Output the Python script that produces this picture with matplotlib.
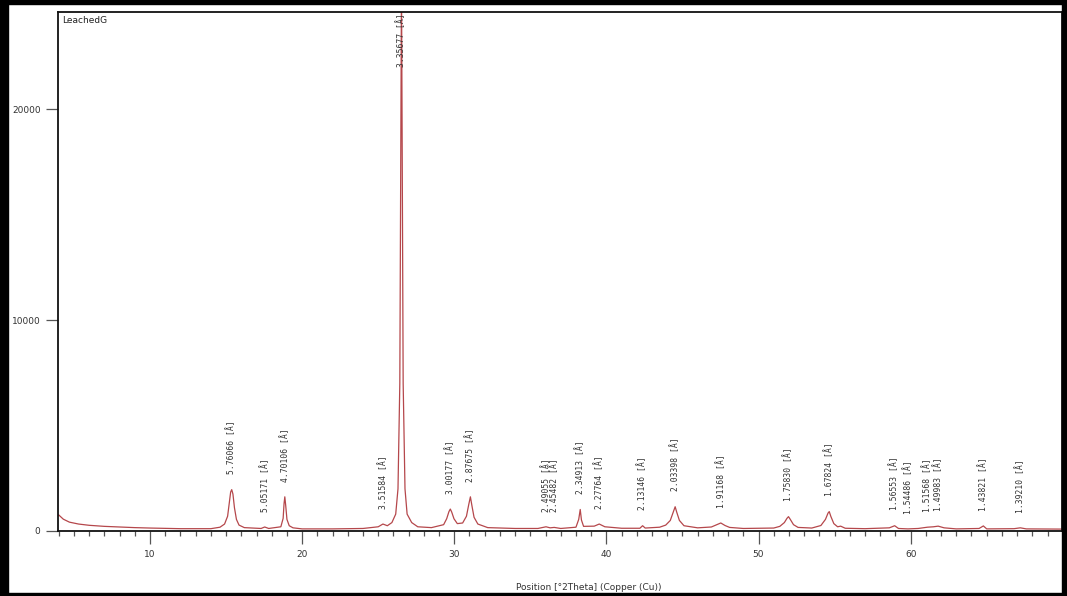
"""XRD pattern of the leached sample G with d-spacing peak labels."""

import numpy as np
import matplotlib
matplotlib.use("Agg")
import matplotlib.pyplot as plt
from matplotlib.patches import Rectangle
from matplotlib.ticker import MultipleLocator

WAVELENGTH = 1.5406  # Cu K-alpha1, Angstrom

# measured trace, position [deg 2theta] and counts
trace_2theta = [
    4.0, 4.3, 4.7, 5.3, 6.0, 7.0, 8.0, 9.0, 10.0, 12.0, 14.0,
    14.6, 14.9, 15.1, 15.22, 15.3, 15.37, 15.45, 15.55, 15.68, 15.85, 16.2,
    17.3, 17.54, 17.8,
    18.6, 18.75, 18.81, 18.86, 18.92, 19.0, 19.15, 19.4,
    20.0, 22.0, 24.0, 25.0, 25.31, 25.6,
    25.9, 26.15, 26.3, 26.42, 26.53, 26.64, 26.76, 26.9, 27.2, 27.6, 28.5,
    29.3, 29.5, 29.65, 29.74, 29.83, 29.98, 30.2,
    30.55, 30.8, 30.95, 31.06, 31.16, 31.3, 31.55,
    32.2, 34.0, 35.5, 36.03, 36.3, 36.57, 37.0,
    38.0, 38.18, 38.28, 38.36, 38.5,
    39.2, 39.53, 39.9, 41.0, 42.2, 42.38, 42.55, 43.5,
    43.9, 44.2, 44.4, 44.52, 44.62, 44.8, 45.1, 46.0,
    46.9, 47.2, 47.52, 47.8, 48.1, 49.0, 51.0,
    51.4, 51.7, 51.87, 51.97, 52.08, 52.3, 52.6, 53.5,
    54.1, 54.4, 54.57, 54.65, 54.75, 54.95, 55.2, 55.4, 55.7,
    57.0, 58.6, 58.95, 59.2, 59.82, 60.5,
    61.1, 61.5, 61.81, 62.2, 63.0, 64.5, 64.78, 65.0, 66.8, 67.21,
    67.6, 70.0,
]
trace_counts = [
    760, 560, 420, 330, 270, 220, 190, 160, 140, 110, 110,
    180, 330, 700, 1400, 1850, 1960, 1750, 1100, 550, 280, 160,
    120, 190, 120,
    200, 600, 1300, 1620, 1200, 550, 250, 150,
    100, 100, 120, 200, 330, 250,
    400, 800, 2000, 7000, 26000, 7000, 2000, 800, 400, 200, 160,
    300, 580, 920, 1040, 900, 580, 350,
    380, 700, 1250, 1620, 1200, 650, 330,
    160, 120, 120, 200, 150, 170, 120,
    180, 550, 1020, 520, 220,
    230, 330, 200, 130, 130, 250, 140, 180,
    280, 500, 900, 1150, 900, 500, 250, 150,
    190, 280, 380, 260, 170, 120, 140,
    220, 400, 600, 680, 560, 300, 170, 140,
    260, 550, 850, 920, 700, 350, 200, 230, 130,
    110, 150, 250, 120, 100, 120,
    180, 200, 230, 150, 100, 120, 240, 100, 110, 150,
    100, 90,
]

# labelled reflections: d-spacing [A] and apex counts
d_spacings = [
    5.76066, 5.05171, 4.70106, 3.51584, 3.35677, 3.00177, 2.87675,
    2.49055, 2.45482, 2.34913, 2.27764, 2.13146, 2.03398, 1.91168,
    1.75830, 1.67824, 1.56553, 1.54486, 1.51568, 1.49983, 1.43821,
    1.39210,
]
peak_counts = [
    1960, 190, 1620, 330, 26000, 1040, 1620,
    200, 170, 1020, 330, 250, 1150, 380,
    680, 920, 250, 100, 180, 230, 240,
    150,
]

x_range = (3.95, 69.95)
y_range = (0, 24600)

fig = plt.figure(figsize=(10.67, 5.96), dpi=100)
ax = fig.add_axes([58 / 1067, 65 / 596, 1004 / 1067, 519 / 596])

ax.plot(trace_2theta, trace_counts, color="#b5474b", lw=0.9)
ax.set_xlim(*x_range)
ax.set_ylim(*y_range)

# Bragg's law: d -> 2theta
two_theta = np.degrees(2 * np.arcsin(WAVELENGTH / (2 * np.array(d_spacings))))
for d, tt, h in zip(d_spacings, two_theta, peak_counts):
    label = f"{d:.5f} [Å]"
    if h >= y_range[1]:
        ax.annotate(label, xy=(tt, y_range[1]), xytext=(0, -1),
                    textcoords="offset points", rotation=90,
                    ha="center", va="top", fontsize=5.8,
                    family="DejaVu Sans Mono", color="#333333")
    else:
        ax.annotate(label, xy=(tt, h), xytext=(0, 11),
                    textcoords="offset points", rotation=90,
                    ha="center", va="bottom", fontsize=5.8,
                    family="DejaVu Sans Mono", color="#333333")

ax.text(0.004, 0.993, "LeachedG", transform=ax.transAxes, ha="left",
        va="top", fontsize=6.5, color="#222222")

ax.xaxis.set_major_locator(MultipleLocator(10))
ax.xaxis.set_minor_locator(MultipleLocator(1))
ax.set_yticks([0, 10000, 20000])
ax.tick_params(axis="x", which="major", length=9.5, width=0.9,
               color="#555555", labelsize=6.5, labelcolor="#333333", pad=4)
ax.tick_params(axis="x", which="minor", length=3.8, width=0.9,
               color="#555555")
ax.tick_params(axis="y", which="major", length=8.6, width=0.9,
               color="#555555", labelsize=6.5, labelcolor="#333333", pad=4)
for side in ax.spines.values():
    side.set_linewidth(1.3)
    side.set_color("#111111")

ax.set_xlabel("Position [°2Theta] (Copper (Cu))", fontsize=6.5,
              color="#333333")
ax.xaxis.set_label_coords(0.529, -0.1)

# window frame around the chart
W, H = 1067, 596
for x0, y0, w, h in [(0, 0, 8, H), (0, H - 4, W, 4), (0, 0, W, 3),
                     (W - 5, 0, 5, H)]:
    fig.patches.append(Rectangle((x0 / W, y0 / H), w / W, h / H,
                                 transform=fig.transFigure,
                                 color="black", zorder=10))

fig.savefig("out.png", dpi=100)
